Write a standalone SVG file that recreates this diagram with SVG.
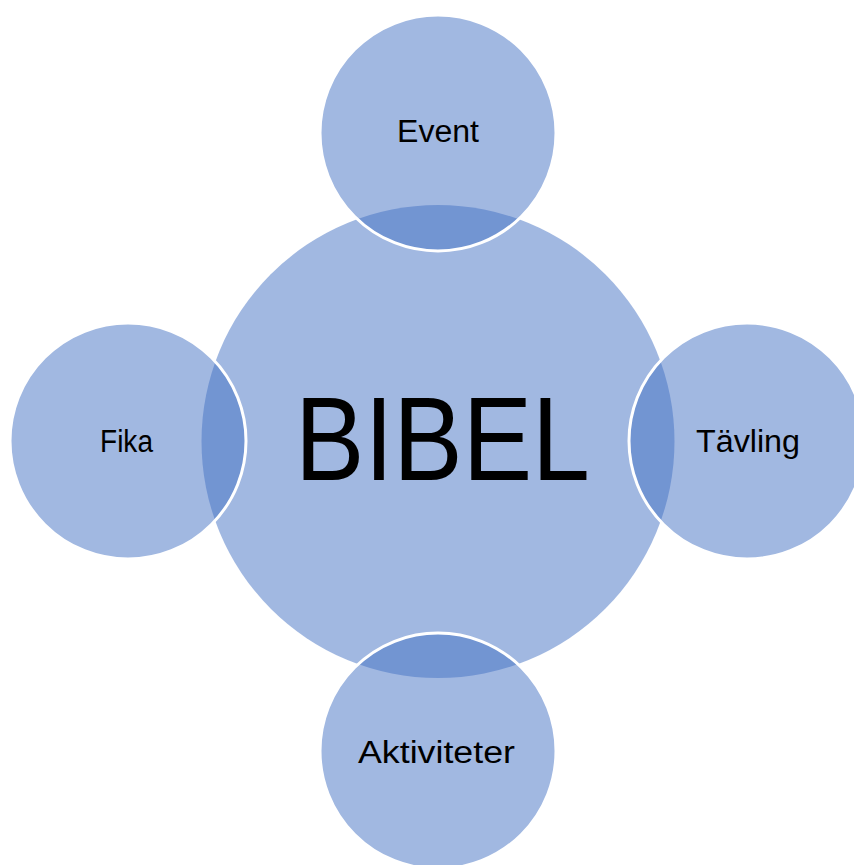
<svg xmlns="http://www.w3.org/2000/svg" width="854" height="865" viewBox="0 0 854 865">
<style>
.c{fill:#4472C4;fill-opacity:0.5;}
.s{stroke:#FFFFFF;stroke-width:3;}
.t{font-family:"Liberation Sans",Arial,sans-serif;fill:#000000;text-anchor:middle;}
</style>
<rect width="854" height="865" fill="#FFFFFF"/>
<g id="connectors"></g>
<g id="center">
<circle class="c" cx="438" cy="441.5" r="236.5"/>
<text class="t" x="442.5" y="480" font-size="118" textLength="295" lengthAdjust="spacingAndGlyphs">BIBEL</text>
</g>
<g id="event">
<circle class="c s" cx="438" cy="133" r="118"/>
<text class="t" x="438" y="142" font-size="31" textLength="82" lengthAdjust="spacingAndGlyphs">Event</text>
</g>
<g id="fika">
<circle class="c s" cx="128" cy="441" r="118"/>
<text class="t" x="126.5" y="452" font-size="31" textLength="53" lengthAdjust="spacingAndGlyphs">Fika</text>
</g>
<g id="tavling">
<circle class="c s" cx="747" cy="441" r="118"/>
<text class="t" x="748" y="452" font-size="31" textLength="104" lengthAdjust="spacingAndGlyphs">Tävling</text>
</g>
<g id="aktiviteter">
<circle class="c s" cx="438" cy="751" r="118"/>
<text class="t" x="436.5" y="763" font-size="31" textLength="157" lengthAdjust="spacingAndGlyphs">Aktiviteter</text>
</g>
</svg>
